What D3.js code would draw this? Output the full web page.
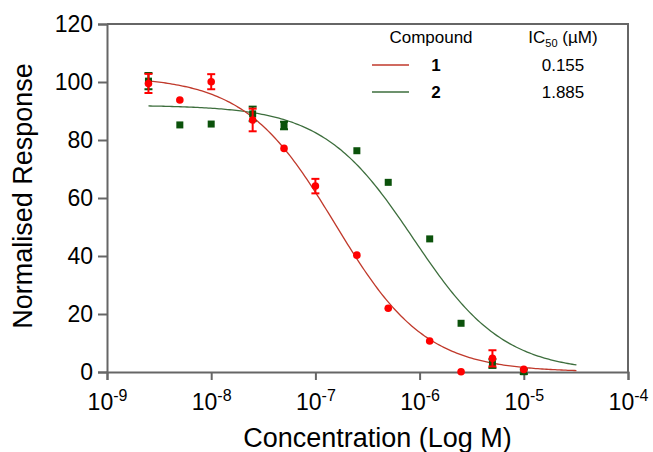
<!DOCTYPE html>
<html>
<head>
<meta charset="utf-8">
<script src="https://cdn.jsdelivr.net/npm/d3@7"></script>
<style>
  body { margin: 0; background: #fff; }
  svg { font-family: "Liberation Sans", Arial, sans-serif; }
</style>
</head>
<body>
<div id="chart"></div>
<script>
// concentrations (M) used in the assay
var conc1 = [2.5e-9, 5e-9, 1e-8, 2.5e-8, 5e-8, 1e-7, 2.5e-7, 5e-7, 1.25e-6, 2.5e-6, 5e-6, 1e-5];
var resp1 = [99.5, 93.8, 100.1, 86.9, 77.1, 64.1, 40.3, 22.0, 10.7, 0.1, 4.7, 0.9];
var err1  = [3.3, 0, 2.6, 3.9, 0, 2.5, 0, 0, 0, 0, 2.8, 0];

var conc2 = [2.5e-9, 5e-9, 1e-8, 2.5e-8, 5e-8, 2.5e-7, 5e-7, 1.25e-6, 2.5e-6, 5e-6, 1e-5];
var resp2 = [100.3, 85.2, 85.5, 89.0, 85.0, 76.3, 65.4, 45.9, 16.8, 2.9, 0.1];
var err2  = [2.8, 0, 0, 2.5, 1.3, 0, 0, 0, 0, 1.5, 0.8];

// fitted 4-parameter logistic curves
var fitTop = [102, 92];
var fitBottom = [0, 0];
var fitLogIC50 = [-6.81, -6.06];
var fitHill = [1.0, 1.0];
var fitRange = [2.5e-9, 3.2e-5];

var compounds = ["1", "2"];
var ic50Labels = ["0.155", "1.885"];
var yTicks = [0, 20, 40, 60, 80, 100, 120];
var xTicks = [1e-9, 1e-8, 1e-7, 1e-6, 1e-5, 1e-4];

var margin = { top: 24, right: 25, bottom: 80, left: 107 },
    width = 653 - margin.left - margin.right,
    height = 452 - margin.top - margin.bottom;

var svg = d3.select("#chart")
    .append("svg")
    .attr("width", 653)
    .attr("height", 452)
    .append("g")
    .attr("transform", "translate(" + margin.left + "," + margin.top + ")");

var x = d3.scaleLog().domain([1e-9, 1e-4]).range([0, width]);
var y = d3.scaleLinear().domain([0, 120]).range([height, 0]);

var axisColor = "#666";

// frame (top + right)
svg.append("path")
    .attr("d", "M0,0H" + width + "V" + height)
    .attr("fill", "none")
    .attr("stroke", axisColor)
    .attr("stroke-width", 2);

// Y axis
var yAxis = svg.append("g")
    .call(d3.axisLeft(y).tickValues(yTicks).tickSize(9).tickPadding(5));
yAxis.selectAll("text")
    .attr("font-size", 23)
    .attr("fill", "#000")
    .attr("font-family", "Liberation Sans, Arial, sans-serif");

// X axis
var xAxis = svg.append("g")
    .attr("transform", "translate(0," + height + ")")
    .call(d3.axisBottom(x).tickValues(xTicks).tickSize(8).tickFormat(""));
xAxis.selectAll(".tick").each(function (d) {
    var t = d3.select(this).append("text")
        .attr("y", 38)
        .attr("text-anchor", "middle")
        .attr("font-size", 23)
        .attr("fill", "#000");
    t.append("tspan").text("10");
    t.append("tspan")
        .attr("dy", -9)
        .attr("font-size", 16)
        .text("-" + Math.round(-Math.log10(d)));
});

[yAxis, xAxis].forEach(function (a) {
    a.select(".domain").attr("stroke", axisColor).attr("stroke-width", 2);
    a.selectAll(".tick line").attr("stroke", axisColor).attr("stroke-width", 2);
});

// axis titles
svg.append("text")
    .attr("transform", "rotate(-90)")
    .attr("x", -height / 2 + 2)
    .attr("y", -75)
    .attr("text-anchor", "middle")
    .attr("font-size", 27)
    .text("Normalised Response");

svg.append("text")
    .attr("x", width / 2 + 10)
    .attr("y", height + 75)
    .attr("text-anchor", "middle")
    .attr("font-size", 27)
    .text("Concentration (Log M)");

// fitted curves
var lineColors = ["#c0392b", "#3d6e3d"];
var pointColors = ["#ff0000", "#0b520b"];

function logistic(i, c) {
    return fitBottom[i] + (fitTop[i] - fitBottom[i]) /
        (1 + Math.pow(10, (Math.log10(c) - fitLogIC50[i]) * fitHill[i]));
}

var logLo = Math.log10(fitRange[0]), logHi = Math.log10(fitRange[1]);
var curveX = d3.range(0, 201).map(function (k) {
    return Math.pow(10, logLo + (logHi - logLo) * k / 200);
});

var line = d3.line()
    .x(function (d) { return x(d[0]); })
    .y(function (d) { return y(d[1]); });

[1, 0].forEach(function (i) {
    svg.append("path")
        .datum(curveX.map(function (c) { return [c, logistic(i, c)]; }))
        .attr("fill", "none")
        .attr("stroke", lineColors[i])
        .attr("stroke-width", 1.3)
        .attr("d", line);
});

// error bars
function drawErrors(conc, resp, err, color) {
    var data = conc.map(function (c, i) { return { c: c, v: resp[i], e: err[i] }; })
        .filter(function (d) { return d.e > 0; });
    var g = svg.append("g").attr("stroke", color).attr("stroke-width", 2);
    data.forEach(function (d) {
        var cx = x(d.c);
        g.append("line").attr("x1", cx).attr("x2", cx)
            .attr("y1", y(d.v + d.e)).attr("y2", y(d.v - d.e));
        g.append("line").attr("x1", cx - 4).attr("x2", cx + 4)
            .attr("y1", y(d.v + d.e)).attr("y2", y(d.v + d.e));
        g.append("line").attr("x1", cx - 4).attr("x2", cx + 4)
            .attr("y1", y(d.v - d.e)).attr("y2", y(d.v - d.e));
    });
}

// compound 2: squares
drawErrors(conc2, resp2, err2, pointColors[1]);
svg.append("g").selectAll("rect")
    .data(conc2)
    .enter()
    .append("rect")
    .attr("x", function (d) { return x(d) - 3.5; })
    .attr("y", function (d, i) { return y(resp2[i]) - 3.5; })
    .attr("width", 7)
    .attr("height", 7)
    .attr("fill", pointColors[1]);

// compound 1: circles
drawErrors(conc1, resp1, err1, pointColors[0]);
svg.append("g").selectAll("circle")
    .data(conc1)
    .enter()
    .append("circle")
    .attr("cx", function (d) { return x(d); })
    .attr("cy", function (d, i) { return y(resp1[i]); })
    .attr("r", 3.8)
    .attr("fill", pointColors[0]);

// legend
var lg = svg.append("g").attr("transform", "translate(" + (372 - margin.left) + ",0)");
lg.append("text").attr("x", 59).attr("y", 19)
    .attr("text-anchor", "middle").attr("font-size", 17).text("Compound");
var ic = lg.append("text").attr("x", 191).attr("y", 19)
    .attr("text-anchor", "middle").attr("font-size", 17);
ic.append("tspan").text("IC");
ic.append("tspan").attr("dy", 4).attr("font-size", 11).text("50");
ic.append("tspan").attr("dy", -4).text(" (\u00b5M)");

compounds.forEach(function (name, i) {
    var yy = 41 + i * 27;
    lg.append("line")
        .attr("x1", 0).attr("x2", 37)
        .attr("y1", yy).attr("y2", yy)
        .attr("stroke", lineColors[i])
        .attr("stroke-width", 1.3);
    lg.append("text").attr("x", 64).attr("y", yy + 6)
        .attr("text-anchor", "middle")
        .attr("font-size", 17).attr("font-weight", "bold")
        .text(name);
    lg.append("text").attr("x", 191).attr("y", yy + 6)
        .attr("text-anchor", "middle")
        .attr("font-size", 17)
        .text(ic50Labels[i]);
});
</script>
</body>
</html>
